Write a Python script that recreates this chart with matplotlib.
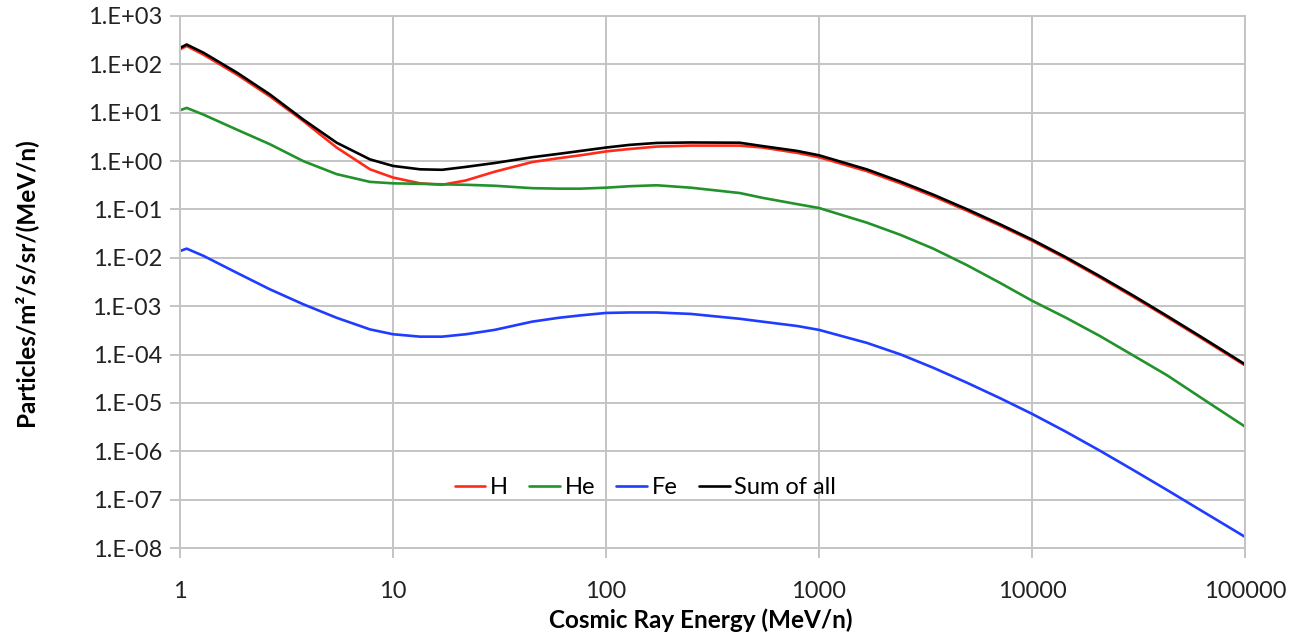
import numpy as np
import matplotlib
matplotlib.use("Agg")
import matplotlib.pyplot as plt
from matplotlib.ticker import FixedLocator, NullLocator

plt.rcParams['font.family'] = ['Lato', 'DejaVu Sans']

energy = [1, 1.075, 1.29, 1.85, 2.64, 3.79, 5.44, 7.8, 10, 13.4, 17, 22, 30, 45, 60,
          76, 100, 129, 173, 250, 424, 543, 790, 1000, 1680, 2410, 3430, 4930, 7070,
          10000, 14300, 20700, 29900, 43100, 62000, 100000]

# log10 of flux, particles/m2/s/sr/(MeV/n)
log_h = [2.31, 2.38, 2.20, 1.79, 1.34, 0.83, 0.28, -0.17, -0.34, -0.46, -0.49, -0.40,
         -0.22, -0.02, 0.06, 0.12, 0.20, 0.25, 0.30, 0.32, 0.32, 0.28, 0.17, 0.08,
         -0.21, -0.46, -0.726, -1.023, -1.333, -1.648, -2.005, -2.40, -2.808, -3.228,
         -3.655, -4.225]
log_he = [1.05, 1.10, 0.96, 0.65, 0.35, 0.0, -0.27, -0.43, -0.46, -0.47, -0.48, -0.49,
          -0.51, -0.56, -0.57, -0.57, -0.55, -0.52, -0.50, -0.55, -0.66, -0.76, -0.89,
          -0.97, -1.274, -1.525, -1.808, -2.148, -2.517, -2.887, -3.23, -3.61, -4.02,
          -4.43, -4.89, -5.49]
log_fe = [-1.86, -1.81, -1.96, -2.31, -2.65, -2.96, -3.24, -3.48, -3.58, -3.63, -3.63,
          -3.58, -3.49, -3.32, -3.24, -3.19, -3.14, -3.13, -3.13, -3.16, -3.26, -3.32,
          -3.41, -3.49, -3.76, -3.996, -4.271, -4.579, -4.901, -5.226, -5.587, -5.981,
          -6.389, -6.802, -7.221, -7.77]
log_sum = [2.34, 2.41, 2.24, 1.83, 1.38, 0.86, 0.38, 0.035, -0.10, -0.17, -0.18, -0.12,
           -0.04, 0.08, 0.15, 0.21, 0.28, 0.335, 0.375, 0.385, 0.38, 0.31, 0.21, 0.12,
           -0.173, -0.424, -0.692, -0.992, -1.306, -1.623, -1.98, -2.374, -2.782,
           -3.203, -3.63, -4.202]

series = [("H", log_h, "#ff2a1a"),
          ("He", log_he, "#22922a"),
          ("Fe", log_fe, "#1f3cff"),
          ("Sum of all", log_sum, "black")]

x_ticks = [1, 10, 100, 1000, 10000, 100000]
y_exps = list(range(-8, 4))

fig = plt.figure(figsize=(12.91, 6.37), dpi=100)
ax = fig.add_axes([0.1394, 0.1397, 0.825, 0.8352])

for name, vals, col in series:
    ax.plot(energy, 10.0 ** np.array(vals), color=col, lw=1.9, label=name,
            solid_capstyle='round', solid_joinstyle='round')

ax.set_xscale('log')
ax.set_yscale('log')
ax.set_xlim(1, 100000)
ax.set_ylim(1e-8, 1e3)

ax.xaxis.set_major_locator(FixedLocator(x_ticks))
ax.set_xticklabels([str(v) for v in x_ticks])
ax.xaxis.set_minor_locator(NullLocator())
ax.yaxis.set_major_locator(FixedLocator([10.0 ** e for e in y_exps]))
ax.set_yticklabels(["1.E%s%02d" % ("+" if e >= 0 else "-", abs(e)) for e in y_exps])
ax.yaxis.set_minor_locator(NullLocator())

grid_col = "#c4c4c4"
ax.grid(True, color=grid_col, lw=1.4)
ax.set_axisbelow(True)
for s in ax.spines.values():
    s.set_color(grid_col)
    s.set_linewidth(1.4)
ax.tick_params(axis='both', which='major', length=7, width=1.4, color=grid_col,
               labelsize=17, labelcolor="#222222", pad=6)
ax.tick_params(axis='x', pad=17)

ax.set_xlabel("Cosmic Ray Energy (MeV/n)", fontsize=17.5, fontweight='bold')
ax.set_ylabel("Particles/m²/s/sr/(MeV/n)", fontsize=17.5, fontweight='bold')
ax.xaxis.set_label_coords(0.489, -0.114)
ax.yaxis.set_label_coords(-0.134, 0.5)

ax.legend(loc='center', bbox_to_anchor=(0.437, 0.113), ncol=4, frameon=False,
          fontsize=17, handlelength=1.3, handletextpad=0.2, columnspacing=0.9)

fig.savefig("out.png", dpi=100)
